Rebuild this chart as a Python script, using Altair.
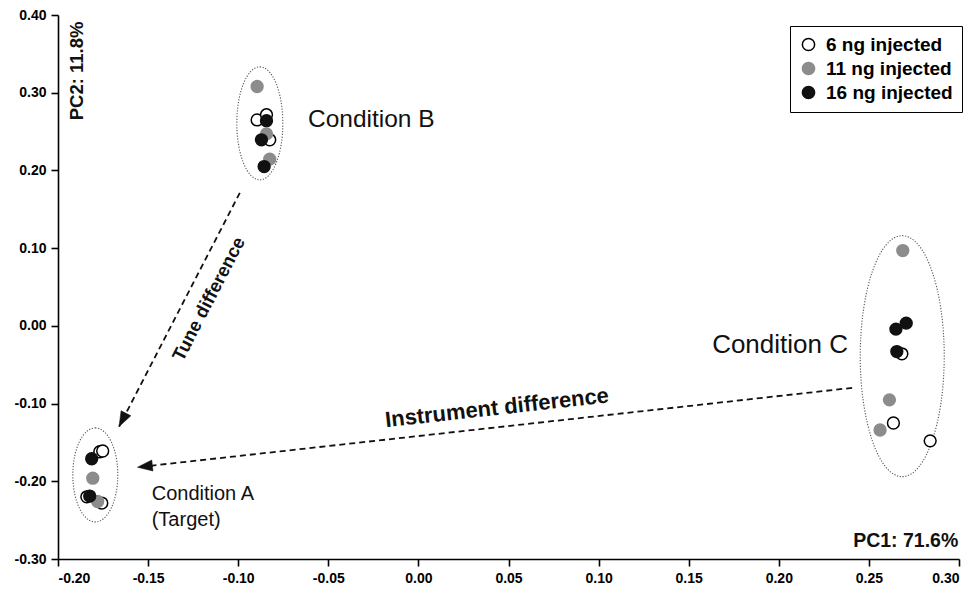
import math
import altair as alt
import pandas as pd

# ---------------- data ----------------
series_names = ["6 ng injected", "11 ng injected", "16 ng injected"]

# open circles (6 ng)
open_x = [-0.1768, -0.1752, -0.1840, -0.1757, -0.0895, -0.0843, -0.0825, 0.2683, 0.2636, 0.2840]
open_y = [-0.162, -0.161, -0.220, -0.228, 0.265, 0.2716, 0.2394, -0.036, -0.125, -0.148]
# gray circles (11 ng)
gray_x = [-0.1807, -0.1780, -0.0895, -0.0843, -0.0825, 0.2688, 0.2614, 0.2562]
gray_y = [-0.196, -0.226, 0.308, 0.247, 0.2145, 0.0969, -0.0952, -0.134]
# black circles (16 ng)
black_x = [-0.1813, -0.1824, -0.0843, -0.0871, -0.0856, 0.2707, 0.2650, 0.2655]
black_y = [-0.171, -0.219, 0.264, 0.2394, 0.205, 0.0035, -0.0042, -0.0331]

# cluster ellipses (centres)
ell_names = ["A", "B", "C"]
ell_x = [-0.1793, -0.0880, 0.2685]
ell_y = [-0.1918, 0.2606, -0.039]

# arrows (start -> tip)
arrow_names = ["Tune difference", "Instrument difference"]
arrow_x1 = [-0.0991, 0.2407]
arrow_y1 = [0.1712, -0.0798]
arrow_x2 = [-0.1661, -0.1559]
arrow_y2 = [-0.1296, -0.1819]
arrow_label_x = [-0.1163, 0.0436]
arrow_label_y = [0.0347, -0.1055]

x_ticks = [-0.20, -0.15, -0.10, -0.05, 0.00, 0.05, 0.10, 0.15, 0.20, 0.25, 0.30]
y_ticks = [-0.30, -0.20, -0.10, 0.00, 0.10, 0.20, 0.30, 0.40]

# ---------------- layout ----------------
W, H = 901, 544
XD = [-0.20, 0.30]
YD = [-0.30, 0.40]
SX = W / (XD[1] - XD[0])
SY = H / (YD[1] - YD[0])
FONT = "Liberation Sans"

pts = pd.DataFrame({
    "x": open_x + gray_x + black_x,
    "y": open_y + gray_y + black_y,
    "series": [series_names[0]] * len(open_x)
    + [series_names[1]] * len(gray_x)
    + [series_names[2]] * len(black_x),
})

xs = alt.Scale(domain=XD, nice=False, zero=False)
ys = alt.Scale(domain=YD, nice=False, zero=False)

lab = "datum.value < -0.0001 ? '-' + format(-datum.value, '.2f') : format(abs(datum.value), '.2f')"
xax = alt.Axis(values=x_ticks, labelExpr=lab, title=None)
yax = alt.Axis(values=y_ticks, labelExpr=lab, title=None)

leg = alt.Legend(title=None, orient="none", legendX=732, legendY=11)

points = alt.Chart(pts).mark_point(filled=True, size=140, strokeWidth=1.5, opacity=1).encode(
    x=alt.X("x:Q", scale=xs, axis=xax),
    y=alt.Y("y:Q", scale=ys, axis=yax),
    fill=alt.Fill("series:N", scale=alt.Scale(domain=series_names, range=["#ffffff", "#8c8c8c", "#111111"]), legend=leg, sort=series_names),
    stroke=alt.Stroke("series:N", scale=alt.Scale(domain=series_names, range=["#000000", "#8c8c8c", "#111111"]), legend=leg, sort=series_names),
)

# ellipse outlines (pixel sizes are styling)
ell_px_w = [45, 46, 84]
ell_px_h = [94, 113, 241]
k = 0.5523


def ellipse_path(a):
    return (f"M0,-1 C{k*a:.4f},-1 {a:.4f},{-k:.4f} {a:.4f},0 "
            f"C{a:.4f},{k:.4f} {k*a:.4f},1 0,1 "
            f"C{-k*a:.4f},1 {-a:.4f},{k:.4f} {-a:.4f},0 "
            f"C{-a:.4f},{-k:.4f} {-k*a:.4f},-1 0,-1 Z")


ellipses = []
for i in range(3):
    d = pd.DataFrame({"x": [ell_x[i]], "y": [ell_y[i]], "name": [ell_names[i]]})
    a = ell_px_w[i] / ell_px_h[i]
    ellipses.append(
        alt.Chart(d).mark_point(
            shape=ellipse_path(a), size=ell_px_h[i] ** 2, filled=False,
            stroke="#555555", strokeWidth=1.1, strokeDash=[1.2, 1.6], opacity=1,
        ).encode(x=alt.X("x:Q", scale=xs), y=alt.Y("y:Q", scale=ys))
    )

# arrows
ad = pd.DataFrame({
    "name": arrow_names,
    "x1": arrow_x1, "y1": arrow_y1, "x2": arrow_x2, "y2": arrow_y2,
    "lx": arrow_label_x, "ly": arrow_label_y,
})
ad["head"] = [
    math.degrees(math.atan2((x2 - x1) * SX, (y2 - y1) * SY)) % 360
    for x1, y1, x2, y2 in zip(arrow_x1, arrow_y1, arrow_x2, arrow_y2)
]
ad["tangle"] = [
    (-math.degrees(math.atan2((y1 - y2) * SY, (x1 - x2) * SX))) % 360
    for x1, y1, x2, y2 in zip(arrow_x1, arrow_y1, arrow_x2, arrow_y2)
]

arrow_lines = alt.Chart(ad).mark_rule(color="#111111", strokeWidth=1.8, strokeDash=[6, 4]).encode(
    x=alt.X("x1:Q", scale=xs), y=alt.Y("y1:Q", scale=ys), x2="x2:Q", y2="y2:Q"
)
arrow_heads = alt.Chart(ad).mark_point(
    shape="M0,0 L-0.55,1.5 L0.55,1.5 Z", size=400, filled=True, fill="#111111",
    stroke="#111111", strokeWidth=0.5, opacity=1,
).encode(
    x=alt.X("x2:Q", scale=xs), y=alt.Y("y2:Q", scale=ys),
    angle=alt.Angle("head:Q", scale=None),
)

tune_text = alt.Chart(ad.iloc[[0]]).mark_text(
    font=FONT, fontSize=18.5, fontWeight="bold", color="#111111", align="center", baseline="middle"
).encode(x=alt.X("lx:Q", scale=xs), y=alt.Y("ly:Q", scale=ys), text="name:N",
         angle=alt.Angle("tangle:Q", scale=None))
inst_text = alt.Chart(ad.iloc[[1]]).mark_text(
    font=FONT, fontSize=22, fontWeight="bold", color="#111111", align="center", baseline="middle"
).encode(x=alt.X("lx:Q", scale=xs), y=alt.Y("ly:Q", scale=ys), text="name:N",
         angle=alt.Angle("tangle:Q", scale=None))

# condition labels
cond_b = pd.DataFrame({"x": [-0.0613], "y": [0.265], "t": ["Condition B"]})
cond_c = pd.DataFrame({"x": [0.163], "y": [-0.0245], "t": ["Condition C"]})
cond_a = pd.DataFrame({"x": [-0.148, -0.148], "y": [-0.216, -0.250], "t": ["Condition A", "(Target)"]})
b_text = alt.Chart(cond_b).mark_text(
    font=FONT, fontSize=24.5, color="#111111", align="left", baseline="middle"
).encode(x=alt.X("x:Q", scale=xs), y=alt.Y("y:Q", scale=ys), text="t:N")
c_text = alt.Chart(cond_c).mark_text(
    font=FONT, fontSize=26, color="#111111", align="left", baseline="middle"
).encode(x=alt.X("x:Q", scale=xs), y=alt.Y("y:Q", scale=ys), text="t:N")
a_text = alt.Chart(cond_a).mark_text(
    font=FONT, fontSize=20, color="#111111", align="left", baseline="middle"
).encode(x=alt.X("x:Q", scale=xs), y=alt.Y("y:Q", scale=ys), text="t:N")

pc1 = alt.Chart(pd.DataFrame({"x": [0.2996], "y": [-0.2767], "t": ["PC1: 71.6%"]})).mark_text(
    font=FONT, fontSize=19.5, fontWeight="bold", color="#111111", align="right", baseline="middle"
).encode(x=alt.X("x:Q", scale=xs), y=alt.Y("y:Q", scale=ys), text="t:N")
pc2 = alt.Chart(pd.DataFrame({"x": [-0.1896], "y": [0.328], "t": ["PC2: 11.8%"]})).mark_text(
    font=FONT, fontSize=18.5, fontWeight="bold", color="#111111", align="center", baseline="middle", angle=270
).encode(x=alt.X("x:Q", scale=xs), y=alt.Y("y:Q", scale=ys), text="t:N")

chart = alt.layer(
    *ellipses, arrow_lines, arrow_heads, tune_text, inst_text, b_text, c_text, a_text, pc1, pc2, points
).properties(
    width=W, height=H,
    autosize=alt.AutoSizeParams(type="none"),
    padding={"left": 50, "top": 7, "right": 6, "bottom": 25},
).configure_view(stroke=None).configure_axis(
    domainColor="#000000", domainWidth=1.6, tickColor="#000000", tickWidth=1.6, tickSize=7,
    labelFont=FONT, labelFontWeight="bold", labelFontSize=14, labelColor="#000000",
    labelPadding=5, grid=False,
).configure_legend(
    strokeColor="#000000", padding=9, labelFont=FONT, labelFontSize=19, labelFontWeight="bold",
    labelColor="#000000", symbolType="circle", symbolSize=150, symbolStrokeWidth=1.5,
    rowPadding=4, labelOffset=8,
)

chart.save("out.html", embed_options={"renderer": "svg", "actions": False})
